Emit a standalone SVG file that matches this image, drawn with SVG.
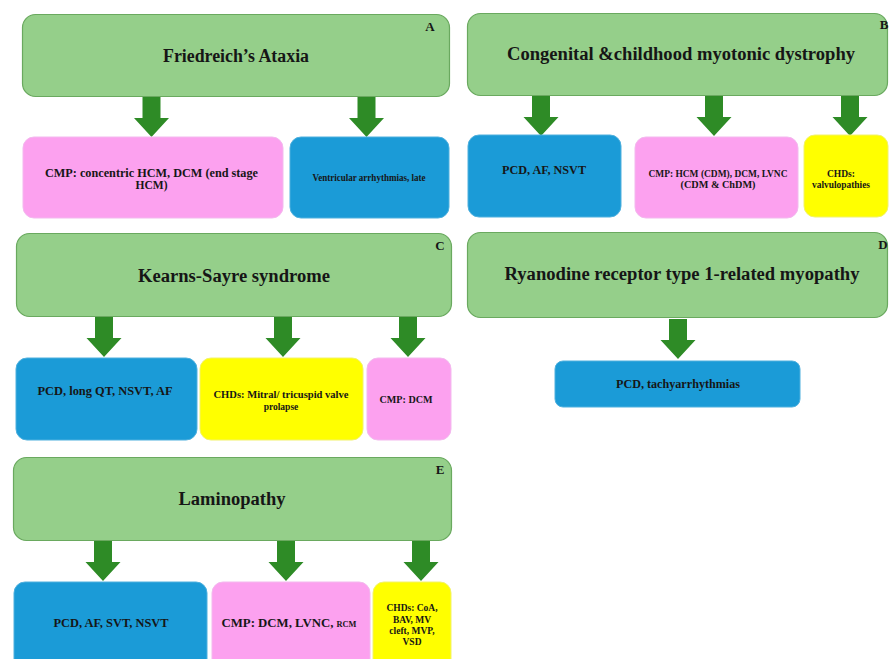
<svg xmlns="http://www.w3.org/2000/svg" xmlns:xlink="http://www.w3.org/1999/xlink" width="889" height="659" viewBox="0 0 889 659">
<style>
.g{fill:#95cf8a;stroke:#6aa95f;stroke-width:1.2}
.p{fill:#fca1ef;stroke:#f3b9ee;stroke-width:1}
.b{fill:#1b9bd7;stroke:#4fb0de;stroke-width:1}
.y{fill:#ffff00;stroke:#f2f26a;stroke-width:1}
text{font-family:"Liberation Serif","Times New Roman",serif;font-weight:bold;fill:#161616;text-anchor:middle}
.t{font-size:18px}
.s{font-size:11.5px}
.xs{font-size:9.5px}
.l{font-size:13px}
.arr{fill:#2e8b26}
</style>
<defs>
<path id="arr" d="M-9,0 H9 V21 H17.5 L0,40 L-17.5,21 H-9 Z"/>
</defs>
<rect width="889" height="659" fill="#ffffff"/>

<g id="connectors" class="arr">
<use href="#arr" x="151.5" y="97"/>
<use href="#arr" x="366.5" y="97"/>
<use href="#arr" x="541" y="96"/>
<use href="#arr" x="714" y="96"/>
<use href="#arr" x="850" y="96"/>
<use href="#arr" x="104" y="317"/>
<use href="#arr" x="283" y="317"/>
<use href="#arr" x="408" y="317"/>
<use href="#arr" x="678" y="319"/>
<use href="#arr" x="103" y="541"/>
<use href="#arr" x="286" y="541"/>
<use href="#arr" x="421" y="541"/>
</g>

<g id="A-title"><rect class="g" x="22.5" y="14.5" width="427" height="82" rx="13"/>
<text class="t" x="236" y="62" textLength="146" lengthAdjust="spacingAndGlyphs">Friedreich’s Ataxia</text>
<text class="l" x="430" y="31">A</text></g>
<g id="A-cmp"><rect class="p" x="23" y="137" width="260" height="81" rx="11"/>
<text class="s" x="151.5" y="177" textLength="213" lengthAdjust="spacingAndGlyphs">CMP: concentric HCM, DCM (end stage</text>
<text class="s" x="151.5" y="189">HCM)</text></g>
<g id="A-arr"><rect class="b" x="290" y="137" width="159" height="81" rx="11"/>
<text class="xs" x="369" y="181" textLength="113" lengthAdjust="spacingAndGlyphs">Ventricular arrhythmias, late</text></g>

<g id="B-title"><rect class="g" x="467.5" y="13.5" width="420" height="82" rx="13"/>
<text class="t" x="681" y="60" textLength="348" lengthAdjust="spacingAndGlyphs">Congenital &amp;childhood myotonic dystrophy</text>
<text class="l" x="884" y="29">B</text></g>
<g id="B-pcd"><rect class="b" x="468" y="135" width="153" height="82" rx="11"/>
<text class="s" x="544" y="174" textLength="84" lengthAdjust="spacingAndGlyphs">PCD, AF, NSVT</text></g>
<g id="B-cmp"><rect class="p" x="635" y="137" width="163" height="81" rx="11"/>
<text class="xs" x="718" y="177" textLength="139" lengthAdjust="spacingAndGlyphs">CMP: HCM (CDM), DCM, LVNC</text>
<text class="xs" x="718" y="188" textLength="75" lengthAdjust="spacingAndGlyphs">(CDM &amp; ChDM)</text></g>
<g id="B-chd"><rect class="y" x="804" y="135" width="84" height="82" rx="11"/>
<text class="xs" x="841" y="177">CHDs:</text>
<text class="xs" x="841" y="188" textLength="58" lengthAdjust="spacingAndGlyphs">valvulopathies</text></g>

<g id="C-title"><rect class="g" x="16.5" y="233.5" width="435" height="83" rx="13"/>
<text class="t" x="234" y="282" textLength="192" lengthAdjust="spacingAndGlyphs">Kearns-Sayre syndrome</text>
<text class="l" x="440" y="250">C</text></g>
<g id="C-pcd"><rect class="b" x="16" y="358" width="181" height="82" rx="11"/>
<text class="s" x="105" y="395" textLength="135" lengthAdjust="spacingAndGlyphs">PCD, long QT, NSVT, AF</text></g>
<g id="C-chd"><rect class="y" x="200" y="358" width="163" height="82" rx="11"/>
<text class="xs" x="281" y="398" textLength="135" lengthAdjust="spacingAndGlyphs">CHDs: Mitral/ tricuspid valve</text>
<text class="xs" x="281" y="410" font-size="10px">prolapse</text></g>
<g id="C-cmp"><rect class="p" x="367" y="358" width="84" height="82" rx="11"/>
<text class="xs" x="406" y="403" textLength="53" lengthAdjust="spacingAndGlyphs">CMP:  DCM</text></g>

<g id="D-title"><rect class="g" x="467.5" y="232.5" width="420" height="85" rx="13"/>
<text class="t" x="682" y="280" textLength="355" lengthAdjust="spacingAndGlyphs">Ryanodine receptor type 1-related myopathy</text>
<text class="l" x="883" y="249">D</text></g>
<g id="D-pcd"><rect class="b" x="555" y="361" width="245" height="46" rx="8"/>
<text class="s" x="678" y="388" textLength="124" lengthAdjust="spacingAndGlyphs">PCD, tachyarrhythmias</text></g>

<g id="E-title"><rect class="g" x="13.5" y="457.5" width="438" height="83" rx="13"/>
<text class="t" x="232" y="505" textLength="107" lengthAdjust="spacingAndGlyphs">Laminopathy</text>
<text class="l" x="440" y="474">E</text></g>
<g id="E-pcd"><rect class="b" x="14" y="582" width="193" height="90" rx="11"/>
<text class="s" x="111" y="627" textLength="115" lengthAdjust="spacingAndGlyphs">PCD, AF, SVT, NSVT</text></g>
<g id="E-cmp"><rect class="p" x="212" y="582" width="158" height="90" rx="11"/>
<text class="s" x="289" y="627" textLength="135" lengthAdjust="spacingAndGlyphs">CMP:  DCM, LVNC, <tspan font-size="7.5px">RCM</tspan></text></g>
<g id="E-chd"><rect class="y" x="373" y="582" width="78" height="90" rx="11"/>
<text class="xs" x="412" y="611">CHDs: CoA,</text>
<text class="xs" x="412" y="623">BAV, MV</text>
<text class="xs" x="412" y="634">cleft, MVP,</text>
<text class="xs" x="412" y="645">VSD</text></g>
</svg>
